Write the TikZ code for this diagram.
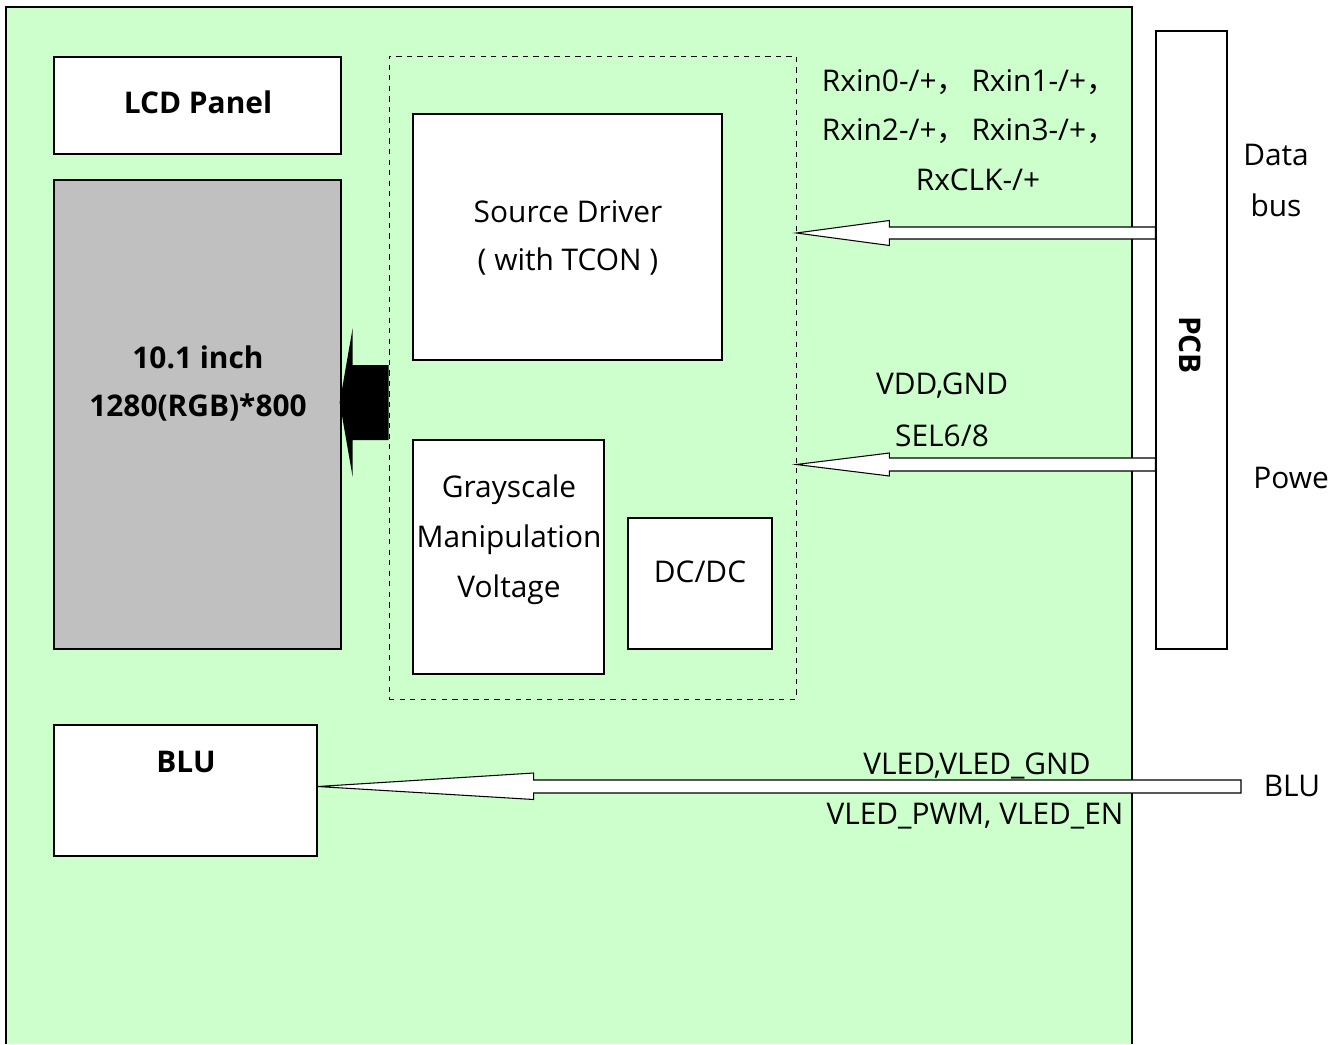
\documentclass[tikz,border=0pt]{standalone}
\usepackage{fontspec}
\setmainfont{Open Sans}
\newfontfamily\cjk{Noto Sans CJK SC}
\usetikzlibrary{calc}

\definecolor{boardgreen}{HTML}{CCFFCC}
\definecolor{panelgray}{HTML}{C0C0C0}

\tikzset{
    box/.style={draw, fill=white, line width=0.8pt, inner sep=0pt},
    txt/.style={font=\fontsize{17}{19}\selectfont, inner sep=0pt},
    btxt/.style={font=\fontsize{17}{19}\selectfont\bfseries, inner sep=0pt},
    barrow/.style={draw, fill=white, line width=0.6pt, line join=miter},
}

\begin{document}
\begin{tikzpicture}[x=0.02cm, y=-0.02cm]
    \useasboundingbox (0,0) rectangle (1344,1044);

    % Board
    \fill[boardgreen] (6,7) rectangle (1132,1044);
    \draw[line width=0.8pt] (6,1044) -- (6,7) -- (1132,7) -- (1132,1044);

    % Draw nodes
    \node[box, minimum width=5.74cm, minimum height=1.94cm] (lcd) at (197.5,105.5) {};
    \node[box, fill=panelgray, minimum width=5.74cm, minimum height=9.38cm] (panel) at (197.5,414.5) {};
    \node[draw, dashed, line width=0.5pt, minimum width=8.14cm, minimum height=12.86cm] (ic) at (592.5,377.5) {};
    \node[box, minimum width=6.18cm, minimum height=4.92cm] (drv) at (567.5,237) {};
    \node[box, minimum width=3.82cm, minimum height=4.68cm] (gray) at (508.5,557) {};
    \node[box, minimum width=2.88cm, minimum height=2.62cm] (dcdc) at (700,583.5) {};
    \node[box, minimum width=1.42cm, minimum height=12.36cm] (pcb) at (1191.5,340) {};
    \node[box, minimum width=5.26cm, minimum height=2.62cm] (blu) at (185.5,790.5) {};

    % Draw connections
    \coordinate (busin) at (pcb.west |- 0,233);
    \coordinate (busout) at (ic.east |- busin);
    \draw[barrow] (busout) -- ++(93,-12.5) -- ++(0,6.5) -- ($(busin)+(0,-6)$)
        -- ($(busin)+(0,6)$) -- ($(busout)+(93,6)$) -- ++(0,6.5) -- cycle;

    \coordinate (pwrin) at (pcb.west |- 0,464.5);
    \coordinate (pwrout) at (ic.east |- pwrin);
    \draw[barrow] (pwrout) -- ++(93,-11.5) -- ++(0,5) -- ($(pwrin)+(0,-6.5)$)
        -- ($(pwrin)+(0,6.5)$) -- ($(pwrout)+(93,6.5)$) -- ++(0,5) -- cycle;

    \coordinate (bluin) at (1241,786.5);
    \coordinate (bluout) at (blu.east |- bluin);
    \draw[barrow] (bluout) -- ++(216,-13.5) -- ++(0,7) -- ($(bluin)+(0,-6.5)$)
        -- ($(bluin)+(0,6.5)$) -- ($(bluout)+(216,6.5)$) -- ++(0,6.5) -- cycle;

    \coordinate (panin) at (ic.west |- 0,402.5);
    \coordinate (panout) at (panel.east |- panin);
    \fill (panout) ++(-2,0) -- ++(13,-74.5) -- ++(0,37) -- ($(panin)+(0,-37.5)$)
        -- ($(panin)+(0,37.5)$) -- ($(panout)+(11,37.5)$) -- ++(0,37) -- cycle;

    % Labels
    \node[btxt] (lcdtxt) at (198,102) {LCD Panel};
    \node[btxt] (sizetxt) at (198,357) {10.1 inch};
    \node[btxt] (restxt) at (198,408) {1280(RGB)*800};
    \node[txt] (drvtxt1) at (568,212) {Source Driver};
    \node[txt] (drvtxt2) at (568,262) {( with TCON )};
    \node[txt] (graytxt1) at (509,490) {Grayscale};
    \node[txt] (graytxt2) at (509,540) {Manipulation};
    \node[txt] (graytxt3) at (509,590) {Voltage};
    \node[txt] (dcdctxt) at (700,572) {DC/DC};
    \node[btxt, rotate=-90] (pcbtxt) at (1190,345) {PCB};
    \node[btxt] (blutxt) at (186,762) {BLU};

    \node[txt] (rx1) at (969,82) {Rxin0-/+{\cjk ，}\,Rxin1-/+{\cjk ，}};
    \node[txt] (rx2) at (969,131) {Rxin2-/+{\cjk ，}\,Rxin3-/+{\cjk ，}};
    \node[txt] (rx3) at (978,180) {RxCLK-/+};
    \node[txt] (data1) at (1276,155) {Data};
    \node[txt] (data2) at (1276,205) {bus};
    \node[txt] (vdd) at (942,386) {VDD,GND};
    \node[txt] (sel) at (942,436) {SEL6/8};
    \begin{scope}
        \clip (1240,440) rectangle (1328,520);
        \node[txt, anchor=west] (power) at (1253,478) {Power};
    \end{scope}
    \node[txt] (vled1) at (977,766) {VLED,VLED\_GND};
    \node[txt] (vled2) at (975,816) {VLED\_PWM, VLED\_EN};
    \node[txt] (bluext) at (1292,786) {BLU};
\end{tikzpicture}
\end{document}
